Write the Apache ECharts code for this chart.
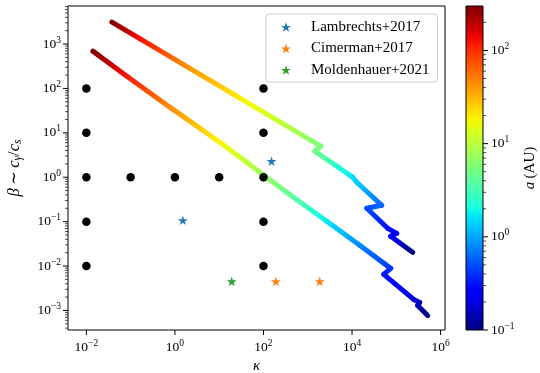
<!DOCTYPE html>
<html><head><meta charset="utf-8">
<script src="https://cdn.jsdelivr.net/npm/echarts@6/dist/echarts.min.js"></script>
<style>html,body{margin:0;padding:0;background:#fff}#c{width:540px;height:373px}</style>
</head><body><div id="c"></div>
<script>
// ---------------- data ----------------
// upper track: kappa, beta, a (AU)
const upperKappa = [0.0377, 0.161, 2.17, 20.3, 233, 1963, 1439, 5272, 10370, 12770, 46800, 21500, 64000, 102000, 74800, 234000];
const upperBeta  = [3126, 1321, 282, 75.2, 17.7, 5.0, 3.86, 1.60, 1.0, 0.771, 0.234, 0.200, 0.0708, 0.0546, 0.0467, 0.0204];
const upperA     = [300, 130, 40, 22, 11, 5.5, 5.0, 2.2, 1.6, 1.4, 0.6, 0.5, 0.3, 0.26, 0.24, 0.1];
// lower track
const lowerKappa = [0.0140, 0.0820, 0.767, 10.3, 42.0, 82.4, 458, 2690, 14900, 74800, 52000, 247000, 337000, 304000, 512000];
const lowerBeta  = [693, 189, 37.9, 6.15, 2.18, 1.30, 0.363, 0.102, 0.0293, 0.00887, 0.0065, 0.00177, 0.00152, 0.0013, 0.000774];
const lowerA     = [300, 120, 45, 18, 11, 8, 4, 1.7, 0.8, 0.4, 0.33, 0.18, 0.16, 0.15, 0.1];
// simulation grid (black dots)
const gridKappa = [0.01, 0.01, 0.01, 0.01, 0.01, 0.1, 1, 10, 100, 100, 100, 100, 100];
const gridBeta  = [100, 10, 1, 0.1, 0.01, 1, 1, 1, 1, 100, 10, 0.1, 0.01];
// literature points
const lambKappa = [1.51, 152];
const lambBeta  = [0.107, 2.30];
const cimKappa  = [190, 1866];
const cimBeta   = [0.00452, 0.00452];
const moldKappa = [19.2];
const moldBeta  = [0.00452];
const legendNames = ['Lambrechts+2017', 'Cimerman+2017', 'Moldenhauer+2021'];
// axes
const xRange = [0.003846, 1.259e6];
const yRange = [3.63e-4, 7194];
const aRange = [0.1, 300];
const xMajorTicks = [1e-2, 1, 1e2, 1e4, 1e6];
const yMajorTicks = [1e-3, 1e-2, 1e-1, 1, 1e1, 1e2, 1e3];
const cbMajorTicks = [0.1, 1, 10, 100];

// ---------------- helpers ----------------
const SERIF = "'Liberation Serif','DejaVu Serif',serif";
const JR = [[0,0],[0.35,0],[0.66,1],[0.89,1],[1,0.5]];
const JG = [[0,0],[0.125,0],[0.375,1],[0.64,1],[0.91,0],[1,0]];
const JB = [[0,0.5],[0.11,1],[0.34,1],[0.65,0],[1,0]];
function interp(pts, t) {
  for (let i = 0; i < pts.length - 1; i++) {
    const [x0, y0] = pts[i], [x1, y1] = pts[i + 1];
    if (t <= x1) return y0 + (y1 - y0) * (t - x0) / (x1 - x0);
  }
  return pts[pts.length - 1][1];
}
function jet(t) {
  t = Math.max(0, Math.min(1, t));
  return 'rgb(' + Math.round(255 * interp(JR, t)) + ',' + Math.round(255 * interp(JG, t)) + ',' + Math.round(255 * interp(JB, t)) + ')';
}
const LA0 = Math.log10(aRange[0]), LA1 = Math.log10(aRange[1]);
function colorOfLogA(la) { return jet((la - LA0) / (LA1 - LA0)); }

function starPath() {
  const pts = [];
  for (let k = 0; k < 10; k++) {
    const r = k % 2 === 0 ? 1 : 0.381966;
    const ang = Math.PI / 2 + k * Math.PI / 5;
    pts.push((r * Math.cos(ang)).toFixed(4) + ',' + (-r * Math.sin(ang)).toFixed(4));
  }
  return 'path://M' + pts.join('L') + 'Z';
}
const STAR = starPath();

function minorTicks(range) {
  const out = [];
  for (let e = -6; e <= 7; e++) for (let m = 2; m <= 9; m++) {
    const v = m * Math.pow(10, e);
    if (v > range[0] && v < range[1]) out.push(v);
  }
  return out;
}

function logLabel(onlyEven) {
  return function (v) {
    const e = Math.log10(v);
    const r = Math.round(e);
    if (Math.abs(e - r) > 1e-6) return '';
    if (onlyEven && r % 2 !== 0) return '';
    return '{b|10}{s|' + (r < 0 ? '\u2212' + (-r) : r) + '}';
  };
}
const labelRich = {
  b: { fontFamily: SERIF, fontSize: 13.5, lineHeight: 18, color: '#000' },
  s: { fontFamily: SERIF, fontSize: 9.5, lineHeight: 8, verticalAlign: 'top', color: '#000' }
};

function segSeries(K, B, A) {
  return {
    type: 'custom', xAxisIndex: 0, yAxisIndex: 0, silent: true, z: 2,
    data: K.slice(0, -1).map((k, i) => [k, B[i], i]),
    renderItem: function (params, api) {
      const i = api.value(2);
      const p0 = api.coord([K[i], B[i]]), p1 = api.coord([K[i + 1], B[i + 1]]);
      const la0 = Math.log10(A[i]), la1 = Math.log10(A[i + 1]);
      const stops = [];
      for (let s = 0; s <= 8; s++) {
        const f = s / 8;
        stops.push({ offset: f, color: colorOfLogA(la0 + (la1 - la0) * f) });
      }
      return {
        type: 'line',
        shape: { x1: p0[0], y1: p0[1], x2: p1[0], y2: p1[1] },
        style: {
          stroke: { type: 'linear', global: true, x: p0[0], y: p0[1], x2: p1[0] + 0.01, y2: p1[1] + 0.01, colorStops: stops },
          lineWidth: 5, lineCap: 'round', lineJoin: 'round'
        }
      };
    }
  };
}

// ticks: side 'bottom' | 'left' | 'right'
function tickSeries(axisIdx, values, side, len, width, ref) {
  return {
    type: 'custom', xAxisIndex: axisIdx, yAxisIndex: axisIdx, silent: true, clip: false, z: 6,
    data: values.map(v => side === 'bottom' ? [v, ref] : [ref, v]),
    renderItem: function (params, api) {
      const cs = params.coordSys;
      const p = api.coord([api.value(0), api.value(1)]);
      let shape;
      if (side === 'bottom') {
        const y0 = cs.y + cs.height;
        shape = { x1: p[0], y1: y0, x2: p[0], y2: y0 + len };
      } else if (side === 'left') {
        shape = { x1: cs.x, y1: p[1], x2: cs.x - len, y2: p[1] };
      } else {
        const x0 = cs.x + cs.width;
        shape = { x1: x0, y1: p[1], x2: x0 + len, y2: p[1] };
      }
      return { type: 'line', shape: shape, style: { stroke: '#000', lineWidth: width } };
    }
  };
}

const cbStops = [];
for (let s = 0; s <= 40; s++) cbStops.push({ offset: s / 40, color: jet(s / 40) });

const chart = echarts.init(document.getElementById('c'), null, { renderer: 'canvas' });
chart.setOption({
  animation: false,
  backgroundColor: '#fff',
  grid: [
    { left: 68, top: 6, width: 377, height: 324, show: true, borderColor: '#000', borderWidth: 1, backgroundColor: 'transparent', containLabel: false, outerBoundsMode: 'none' },
    { left: 466, top: 6, width: 17, height: 324, show: false, containLabel: false, outerBoundsMode: 'none' }
  ],
  xAxis: [
    {
      type: 'log', logBase: 10, gridIndex: 0, min: xRange[0], max: xRange[1],
      axisLine: { show: false }, axisTick: { show: false }, splitLine: { show: false },
      axisLabel: { formatter: logLabel(true), rich: labelRich, margin: 8 },
      name: 'κ', nameLocation: 'middle', nameGap: 22,
      nameTextStyle: { fontFamily: SERIF, fontStyle: 'italic', fontSize: 15, color: '#000' }
    },
    { type: 'value', gridIndex: 1, min: 0, max: 1, show: false }
  ],
  yAxis: [
    {
      type: 'log', logBase: 10, gridIndex: 0, min: yRange[0], max: yRange[1],
      axisLine: { show: false }, axisTick: { show: false }, splitLine: { show: false },
      axisLabel: { formatter: logLabel(false), rich: labelRich, margin: 7 },
      name: '{i|β} {n|∼} {i|c}{s|γ}{n|/}{i|c}{s|s}', nameLocation: 'middle', nameGap: 44, nameRotate: 90,
      nameTextStyle: {
        rich: {
          i: { fontFamily: SERIF, fontStyle: 'italic', fontSize: 16.5, lineHeight: 18, color: '#000' },
          n: { fontFamily: SERIF, fontSize: 16.5, lineHeight: 18, color: '#000' },
          s: { fontFamily: SERIF, fontStyle: 'italic', fontSize: 11.5, lineHeight: 12, verticalAlign: 'bottom', color: '#000' }
        }
      }
    },
    {
      type: 'log', logBase: 10, gridIndex: 1, min: aRange[0], max: aRange[1], position: 'right',
      axisLine: { show: false }, axisTick: { show: false }, splitLine: { show: false },
      axisLabel: { formatter: logLabel(false), rich: labelRich, margin: 8 },
      name: '{i|a} {n|(AU)}', nameLocation: 'middle', nameGap: 40, nameRotate: 90,
      nameTextStyle: {
        rich: {
          i: { fontFamily: SERIF, fontStyle: 'italic', fontSize: 15, color: '#000' },
          n: { fontFamily: SERIF, fontSize: 15, color: '#000' }
        }
      }
    }
  ],
  legend: {
    orient: 'vertical', left: 266, top: 14, padding: [5, 8, 4, 15], itemGap: 5.5,
    itemWidth: 10, itemHeight: 10, icon: STAR,
    backgroundColor: 'rgba(255,255,255,0.8)', borderColor: '#cccccc', borderWidth: 1, borderRadius: 3,
    textStyle: { fontFamily: SERIF, fontSize: 15, lineHeight: 16, color: '#000', padding: [0, 0, 0, 15] },
    data: legendNames
  },
  series: [
    segSeries(upperKappa, upperBeta, upperA),
    segSeries(lowerKappa, lowerBeta, lowerA),
    {
      type: 'scatter', xAxisIndex: 0, yAxisIndex: 0, symbol: 'circle', symbolSize: 8.5, z: 3, silent: true,
      itemStyle: { color: '#000', opacity: 1 },
      data: gridKappa.map((k, i) => [k, gridBeta[i]])
    },
    {
      name: legendNames[0], type: 'scatter', xAxisIndex: 0, yAxisIndex: 0, symbol: STAR, symbolSize: 10, symbolKeepAspect: true, z: 4,
      itemStyle: { color: '#1f77b4', opacity: 1 }, data: lambKappa.map((k, i) => [k, lambBeta[i]])
    },
    {
      name: legendNames[1], type: 'scatter', xAxisIndex: 0, yAxisIndex: 0, symbol: STAR, symbolSize: 10, symbolKeepAspect: true, z: 4,
      itemStyle: { color: '#ff7f0e', opacity: 1 }, data: cimKappa.map((k, i) => [k, cimBeta[i]])
    },
    {
      name: legendNames[2], type: 'scatter', xAxisIndex: 0, yAxisIndex: 0, symbol: STAR, symbolSize: 10, symbolKeepAspect: true, z: 4,
      itemStyle: { color: '#2ca02c', opacity: 1 }, data: moldKappa.map((k, i) => [k, moldBeta[i]])
    },
    // colorbar body
    {
      type: 'custom', xAxisIndex: 1, yAxisIndex: 1, silent: true, z: 2,
      data: [[0, aRange[1]]],
      renderItem: function (params, api) {
        const p1 = api.coord([0, aRange[1]]), p2 = api.coord([1, aRange[0]]);
        const shape = { x: p1[0], y: p1[1], width: p2[0] - p1[0], height: p2[1] - p1[1] };
        return {
          type: 'group', children: [
            { type: 'rect', shape: shape, style: { fill: { type: 'linear', x: 0, y: 1, x2: 0, y2: 0, colorStops: cbStops }, stroke: null } },
            { type: 'rect', shape: shape, style: { fill: null, stroke: '#000', lineWidth: 1 } }
          ]
        };
      }
    },
    // ticks
    tickSeries(0, xMajorTicks, 'bottom', 5, 1, 1),
    tickSeries(0, yMajorTicks, 'left', 5, 1, 1),
    tickSeries(0, minorTicks(yRange), 'left', 3, 0.7, 1),
    tickSeries(1, cbMajorTicks, 'right', 5, 1, 0.5),
    tickSeries(1, minorTicks(aRange), 'right', 3, 0.7, 0.5)
  ]
});
</script>
</body></html>
